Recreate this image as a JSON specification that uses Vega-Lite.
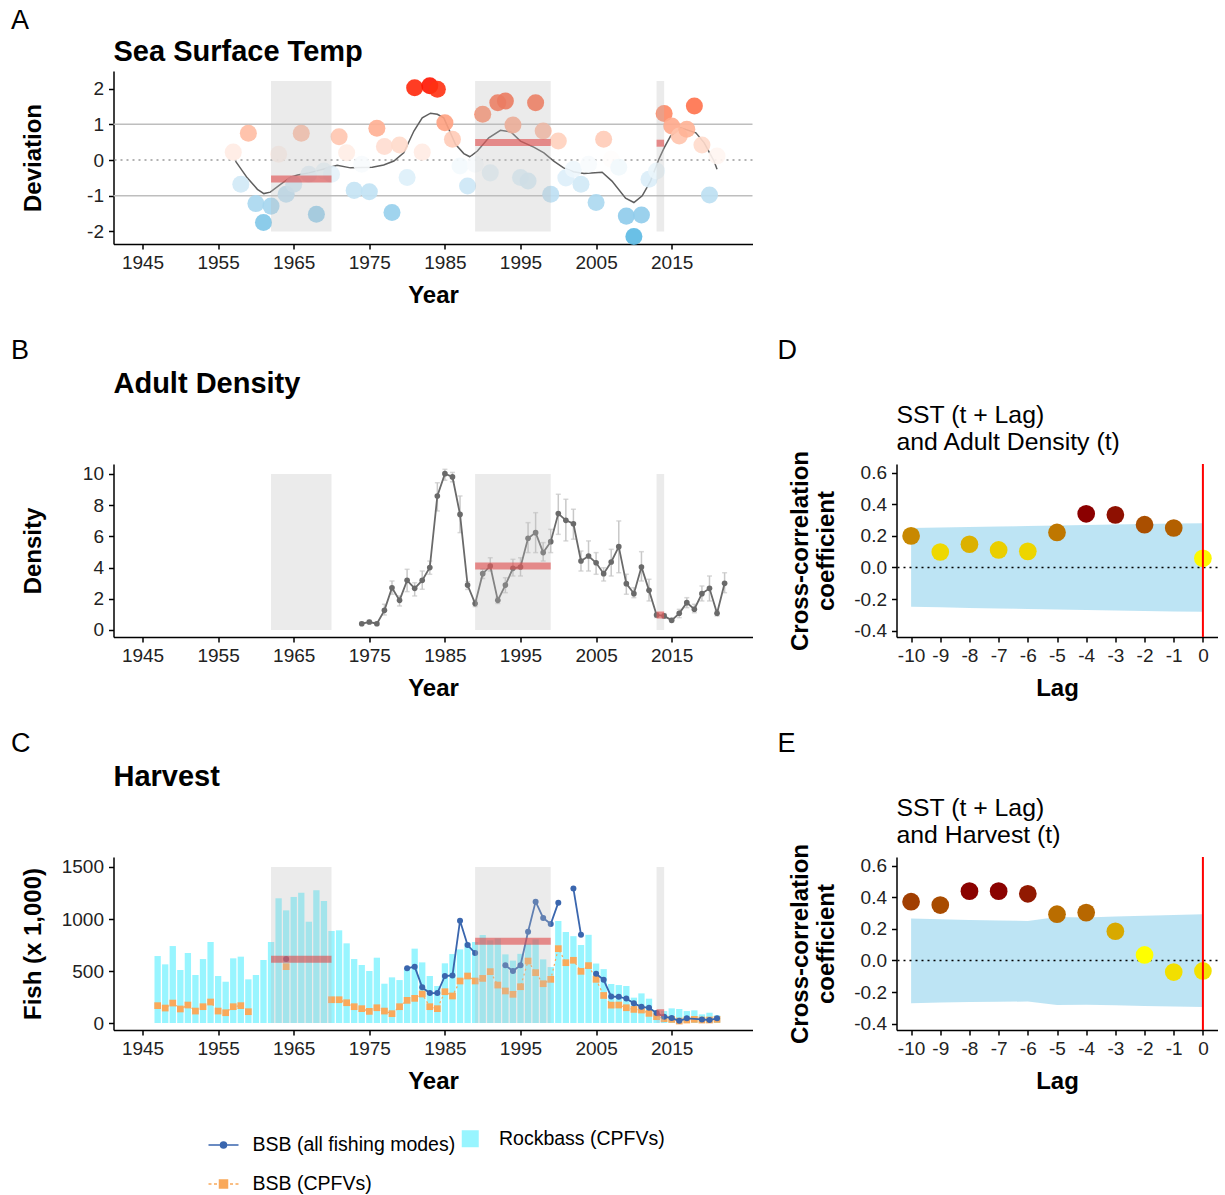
{
"$schema": "https://vega.github.io/schema/vega-lite/v6.json",
"background": "white",
"padding": {"left": 10.5, "top": 6, "right": 5, "bottom": 0},
"config": {
  "font": "Liberation Sans",
  "view": {"stroke": null},
  "axis": {"grid": false, "domainColor": "black", "domainWidth": 1.5, "tickColor": "black", "tickWidth": 1.5, "tickSize": 5, "labelFontSize": 19, "labelColor": "#222222", "labelPadding": 4, "titleFontSize": 24, "titleFontWeight": "bold", "titleColor": "black", "labelOverlap": false},
  "axisX": {"titlePadding": 11},
  "axisY": {"titlePadding": 15, "labelPadding": 5},
  "title": {"color": "black"}
},
"datasets": {
  "sst": [
    {"year":1957,"dev":0.22},{"year":1958,"dev":-0.68},{"year":1959,"dev":0.75},{"year":1960,"dev":-1.22},{"year":1961,"dev":-1.75},{"year":1962,"dev":-1.29},{"year":1963,"dev":0.16},{"year":1964,"dev":-0.96},{"year":1965,"dev":-0.68},{"year":1966,"dev":0.75},{"year":1967,"dev":-0.40},{"year":1968,"dev":-1.52},{"year":1969,"dev":-0.31},{"year":1970,"dev":-0.40},{"year":1971,"dev":0.65},{"year":1972,"dev":0.20},{"year":1973,"dev":-0.85},{"year":1974,"dev":-0.12},{"year":1975,"dev":-0.89},{"year":1976,"dev":0.89},{"year":1977,"dev":0.38},{"year":1978,"dev":-1.47},{"year":1979,"dev":0.42},{"year":1980,"dev":-0.49},{"year":1981,"dev":2.02},{"year":1982,"dev":0.22},{"year":1983,"dev":2.08},{"year":1984,"dev":1.98},{"year":1985,"dev":1.04},{"year":1986,"dev":0.58},{"year":1987,"dev":-0.17},{"year":1988,"dev":-0.73},{"year":1989,"dev":-0.12},{"year":1990,"dev":1.28},{"year":1991,"dev":-0.36},{"year":1992,"dev":1.60},{"year":1993,"dev":1.65},{"year":1994,"dev":0.98},{"year":1995,"dev":-0.49},{"year":1996,"dev":-0.59},{"year":1997,"dev":1.60},{"year":1998,"dev":0.81},{"year":1999,"dev":-0.96},{"year":2000,"dev":0.53},{"year":2001,"dev":-0.50},{"year":2002,"dev":-0.26},{"year":2003,"dev":-0.68},{"year":2004,"dev":-0.12},{"year":2005,"dev":-1.19},{"year":2006,"dev":0.58},{"year":2007,"dev":0.02},{"year":2008,"dev":-0.20},{"year":2009,"dev":-1.57},{"year":2010,"dev":-2.14},{"year":2011,"dev":-1.54},{"year":2012,"dev":-0.54},{"year":2013,"dev":-0.31},{"year":2014,"dev":1.30},{"year":2015,"dev":0.95},{"year":2016,"dev":0.67},{"year":2017,"dev":0.86},{"year":2018,"dev":1.51},{"year":2019,"dev":0.42},{"year":2020,"dev":-0.98},{"year":2021,"dev":0.11}
  ],
  "sst_smooth": [
    {"year":1957.3,"dev":-0.03},{"year":1958.85,"dev":-0.50},{"year":1960.2,"dev":-0.82},{"year":1961.05,"dev":-0.94},{"year":1961.9,"dev":-0.90},{"year":1963.25,"dev":-0.68},{"year":1964.6,"dev":-0.48},{"year":1965.5,"dev":-0.42},{"year":1967,"dev":-0.36},{"year":1969,"dev":-0.25},{"year":1970.75,"dev":-0.15},{"year":1972.5,"dev":-0.22},{"year":1974,"dev":-0.21},{"year":1975.4,"dev":-0.20},{"year":1976.9,"dev":-0.14},{"year":1978.25,"dev":-0.03},{"year":1979.55,"dev":0.20},{"year":1980.9,"dev":0.81},{"year":1982,"dev":1.18},{"year":1983.1,"dev":1.31},{"year":1984,"dev":1.28},{"year":1984.85,"dev":1.18},{"year":1986.4,"dev":0.44},{"year":1987.5,"dev":0.18},{"year":1988.3,"dev":0.09},{"year":1989.3,"dev":0.25},{"year":1990.8,"dev":0.62},{"year":1992.35,"dev":0.83},{"year":1993.7,"dev":0.79},{"year":1995,"dev":0.53},{"year":1996.75,"dev":0.36},{"year":1998.1,"dev":0.20},{"year":1999.4,"dev":-0.03},{"year":2000.7,"dev":-0.22},{"year":2002,"dev":-0.33},{"year":2003.4,"dev":-0.38},{"year":2005.8,"dev":-0.34},{"year":2007.1,"dev":-0.59},{"year":2008.9,"dev":-1.07},{"year":2010,"dev":-1.19},{"year":2011.1,"dev":-1.00},{"year":2012.2,"dev":-0.59},{"year":2013.3,"dev":0.02},{"year":2014,"dev":0.34},{"year":2014.85,"dev":0.67},{"year":2016.2,"dev":0.90},{"year":2018.2,"dev":0.76},{"year":2019.3,"dev":0.48},{"year":2020.6,"dev":-0.03},{"year":2021,"dev":-0.26}
  ],
  "density": [
    {"year":1974,"density":0.40,"lo":0.30,"hi":0.50},{"year":1975,"density":0.51,"lo":0.40,"hi":0.62},{"year":1976,"density":0.40,"lo":0.30,"hi":0.50},{"year":1977,"density":1.26,"lo":0.96,"hi":1.65},{"year":1978,"density":2.71,"lo":2.29,"hi":3.14},{"year":1979,"density":1.90,"lo":1.54,"hi":2.18},{"year":1980,"density":3.18,"lo":2.46,"hi":3.89},{"year":1981,"density":2.67,"lo":2.18,"hi":3.03},{"year":1982,"density":3.18,"lo":2.61,"hi":3.78},{"year":1983,"density":4.00,"lo":3.57,"hi":4.42},{"year":1984,"density":8.59,"lo":7.63,"hi":9.44},{"year":1985,"density":10.02,"lo":9.6,"hi":10.3},{"year":1986,"density":9.81,"lo":9.5,"hi":10.1},{"year":1987,"density":7.41,"lo":6.24,"hi":8.59},{"year":1988,"density":2.88,"lo":2.6,"hi":3.1},{"year":1989,"density":1.69,"lo":1.5,"hi":1.9},{"year":1990,"density":3.61,"lo":3.3,"hi":3.9},{"year":1991,"density":4.10,"lo":3.78,"hi":4.63},{"year":1992,"density":1.90,"lo":1.7,"hi":2.1},{"year":1993,"density":2.88,"lo":2.39,"hi":3.35},{"year":1994,"density":3.95,"lo":3.46,"hi":4.53},{"year":1995,"density":4.04,"lo":3.46,"hi":4.63},{"year":1996,"density":5.88,"lo":4.96,"hi":6.88},{"year":1997,"density":6.24,"lo":4.96,"hi":7.52},{"year":1998,"density":4.96,"lo":4.42,"hi":5.60},{"year":1999,"density":5.66,"lo":4.96,"hi":6.45},{"year":2000,"density":7.46,"lo":6.13,"hi":8.70},{"year":2001,"density":7.03,"lo":5.71,"hi":8.38},{"year":2002,"density":6.81,"lo":5.82,"hi":7.74},{"year":2003,"density":4.42,"lo":3.78,"hi":5.06},{"year":2004,"density":4.74,"lo":3.78,"hi":5.71},{"year":2005,"density":4.31,"lo":3.57,"hi":4.96},{"year":2006,"density":3.61,"lo":3.14,"hi":3.99},{"year":2007,"density":4.36,"lo":3.46,"hi":5.17},{"year":2008,"density":5.34,"lo":3.67,"hi":6.99},{"year":2009,"density":2.97,"lo":2.29,"hi":3.57},{"year":2010,"density":2.33,"lo":2.07,"hi":2.71},{"year":2011,"density":4.04,"lo":3.14,"hi":5.02},{"year":2012,"density":2.54,"lo":1.86,"hi":3.25},{"year":2013,"density":0.96,"lo":0.8,"hi":1.1},{"year":2014,"density":0.90,"lo":0.75,"hi":1.05},{"year":2015,"density":0.62,"lo":0.5,"hi":0.75},{"year":2016,"density":1.07,"lo":0.79,"hi":1.32},{"year":2017,"density":1.75,"lo":1.43,"hi":2.07},{"year":2018,"density":1.33,"lo":1.11,"hi":1.65},{"year":2019,"density":2.33,"lo":1.86,"hi":2.82},{"year":2020,"density":2.67,"lo":1.86,"hi":3.46},{"year":2021,"density":1.07,"lo":0.9,"hi":1.25},{"year":2022,"density":2.99,"lo":2.39,"hi":3.67}
  ],
  "rockbass": [
    {"year":1947,"fish":644},{"year":1948,"fish":564},{"year":1949,"fish":740},{"year":1950,"fish":510},{"year":1951,"fish":673},{"year":1952,"fish":462},{"year":1953,"fish":615},{"year":1954,"fish":779},{"year":1955,"fish":452},{"year":1956,"fish":397},{"year":1957,"fish":622},{"year":1958,"fish":638},{"year":1959,"fish":420},{"year":1960,"fish":462},{"year":1961,"fish":606},{"year":1962,"fish":779},{"year":1963,"fish":1199},{"year":1964,"fish":1083},{"year":1965,"fish":1212},{"year":1966,"fish":1253},{"year":1967,"fish":974},{"year":1968,"fish":1276},{"year":1969,"fish":1173},{"year":1970,"fish":885},{"year":1971,"fish":891},{"year":1972,"fish":766},{"year":1973,"fish":615},{"year":1974,"fish":558},{"year":1975,"fish":500},{"year":1976,"fish":628},{"year":1977,"fish":378},{"year":1978,"fish":439},{"year":1979,"fish":413},{"year":1980,"fish":520},{"year":1981,"fish":715},{"year":1982,"fish":583},{"year":1983,"fish":452},{"year":1984,"fish":356},{"year":1985,"fish":574},{"year":1986,"fish":663},{"year":1987,"fish":708},{"year":1988,"fish":772},{"year":1989,"fish":779},{"year":1990,"fish":846},{"year":1991,"fish":795},{"year":1992,"fish":814},{"year":1993,"fish":660},{"year":1994,"fish":600},{"year":1995,"fish":665},{"year":1996,"fish":763},{"year":1997,"fish":805},{"year":1998,"fish":612},{"year":1999,"fish":538},{"year":2000,"fish":981},{"year":2001,"fish":875},{"year":2002,"fish":835},{"year":2003,"fish":750},{"year":2004,"fish":848},{"year":2005,"fish":572},{"year":2006,"fish":518},{"year":2007,"fish":375},{"year":2008,"fish":365},{"year":2009,"fish":356},{"year":2010,"fish":244},{"year":2011,"fish":285},{"year":2012,"fish":234},{"year":2013,"fish":122},{"year":2014,"fish":115},{"year":2015,"fish":141},{"year":2016,"fish":135},{"year":2017,"fish":115},{"year":2018,"fish":122},{"year":2019,"fish":83},{"year":2020,"fish":99},{"year":2021,"fish":74}
  ],
  "bsb": [
    {"series":"BSB (all fishing modes)","seg":1,"year":1964,"fish":615},
    {"series":"BSB (all fishing modes)","seg":2,"year":1980,"fish":526},{"series":"BSB (all fishing modes)","seg":2,"year":1981,"fish":542},{"series":"BSB (all fishing modes)","seg":2,"year":1982,"fish":343},{"series":"BSB (all fishing modes)","seg":2,"year":1983,"fish":288},{"series":"BSB (all fishing modes)","seg":2,"year":1984,"fish":288},{"series":"BSB (all fishing modes)","seg":2,"year":1985,"fish":452},{"series":"BSB (all fishing modes)","seg":2,"year":1986,"fish":458},{"series":"BSB (all fishing modes)","seg":2,"year":1987,"fish":984},{"series":"BSB (all fishing modes)","seg":2,"year":1988,"fish":750},{"series":"BSB (all fishing modes)","seg":2,"year":1989,"fish":673},
    {"series":"BSB (all fishing modes)","seg":3,"year":1993,"fish":555},{"series":"BSB (all fishing modes)","seg":3,"year":1994,"fish":500},{"series":"BSB (all fishing modes)","seg":3,"year":1995,"fish":555},{"series":"BSB (all fishing modes)","seg":3,"year":1996,"fish":878},{"series":"BSB (all fishing modes)","seg":3,"year":1997,"fish":1167},{"series":"BSB (all fishing modes)","seg":3,"year":1998,"fish":1010},{"series":"BSB (all fishing modes)","seg":3,"year":1999,"fish":952},{"series":"BSB (all fishing modes)","seg":3,"year":2000,"fish":1157},
    {"series":"BSB (all fishing modes)","seg":4,"year":2002,"fish":1292},{"series":"BSB (all fishing modes)","seg":4,"year":2003,"fish":849},
    {"series":"BSB (all fishing modes)","seg":5,"year":2005,"fish":474},{"series":"BSB (all fishing modes)","seg":5,"year":2006,"fish":415},{"series":"BSB (all fishing modes)","seg":5,"year":2007,"fish":255},{"series":"BSB (all fishing modes)","seg":5,"year":2008,"fish":252},{"series":"BSB (all fishing modes)","seg":5,"year":2009,"fish":236},{"series":"BSB (all fishing modes)","seg":5,"year":2010,"fish":189},{"series":"BSB (all fishing modes)","seg":5,"year":2011,"fish":156},{"series":"BSB (all fishing modes)","seg":5,"year":2012,"fish":146},{"series":"BSB (all fishing modes)","seg":5,"year":2013,"fish":96},{"series":"BSB (all fishing modes)","seg":5,"year":2014,"fish":61},{"series":"BSB (all fishing modes)","seg":5,"year":2015,"fish":48},{"series":"BSB (all fishing modes)","seg":5,"year":2016,"fish":22},{"series":"BSB (all fishing modes)","seg":5,"year":2017,"fish":45},{"series":"BSB (all fishing modes)","seg":5,"year":2019,"fish":35},{"series":"BSB (all fishing modes)","seg":5,"year":2020,"fish":29},{"series":"BSB (all fishing modes)","seg":5,"year":2021,"fish":45},
    {"series":"BSB (CPFVs)","seg":1,"year":1947,"fish":167},{"series":"BSB (CPFVs)","seg":1,"year":1948,"fish":144},{"series":"BSB (CPFVs)","seg":1,"year":1949,"fish":192},{"series":"BSB (CPFVs)","seg":1,"year":1950,"fish":135},{"series":"BSB (CPFVs)","seg":1,"year":1951,"fish":173},{"series":"BSB (CPFVs)","seg":1,"year":1952,"fish":115},{"series":"BSB (CPFVs)","seg":1,"year":1953,"fish":157},{"series":"BSB (CPFVs)","seg":1,"year":1954,"fish":202},{"series":"BSB (CPFVs)","seg":1,"year":1955,"fish":115},{"series":"BSB (CPFVs)","seg":1,"year":1956,"fish":99},{"series":"BSB (CPFVs)","seg":1,"year":1957,"fish":157},{"series":"BSB (CPFVs)","seg":1,"year":1958,"fish":167},{"series":"BSB (CPFVs)","seg":1,"year":1959,"fish":109},
    {"series":"BSB (CPFVs)","seg":2,"year":1964,"fish":542},
    {"series":"BSB (CPFVs)","seg":3,"year":1970,"fish":224},{"series":"BSB (CPFVs)","seg":3,"year":1971,"fish":224},{"series":"BSB (CPFVs)","seg":3,"year":1972,"fish":195},{"series":"BSB (CPFVs)","seg":3,"year":1973,"fish":157},{"series":"BSB (CPFVs)","seg":3,"year":1974,"fish":138},{"series":"BSB (CPFVs)","seg":3,"year":1975,"fish":112},{"series":"BSB (CPFVs)","seg":3,"year":1976,"fish":147},{"series":"BSB (CPFVs)","seg":3,"year":1977,"fish":115},{"series":"BSB (CPFVs)","seg":3,"year":1978,"fish":90},{"series":"BSB (CPFVs)","seg":3,"year":1979,"fish":157},{"series":"BSB (CPFVs)","seg":3,"year":1980,"fish":218},{"series":"BSB (CPFVs)","seg":3,"year":1981,"fish":237},{"series":"BSB (CPFVs)","seg":3,"year":1982,"fish":279},{"series":"BSB (CPFVs)","seg":3,"year":1983,"fish":157},{"series":"BSB (CPFVs)","seg":3,"year":1984,"fish":138},{"series":"BSB (CPFVs)","seg":3,"year":1985,"fish":301},{"series":"BSB (CPFVs)","seg":3,"year":1986,"fish":260},{"series":"BSB (CPFVs)","seg":3,"year":1987,"fish":404},{"series":"BSB (CPFVs)","seg":3,"year":1988,"fish":452},{"series":"BSB (CPFVs)","seg":3,"year":1989,"fish":404},{"series":"BSB (CPFVs)","seg":3,"year":1990,"fish":429},{"series":"BSB (CPFVs)","seg":3,"year":1991,"fish":494},{"series":"BSB (CPFVs)","seg":3,"year":1992,"fish":365},{"series":"BSB (CPFVs)","seg":3,"year":1993,"fish":308},{"series":"BSB (CPFVs)","seg":3,"year":1994,"fish":276},{"series":"BSB (CPFVs)","seg":3,"year":1995,"fish":349},{"series":"BSB (CPFVs)","seg":3,"year":1996,"fish":596},{"series":"BSB (CPFVs)","seg":3,"year":1997,"fish":484},{"series":"BSB (CPFVs)","seg":3,"year":1998,"fish":378},{"series":"BSB (CPFVs)","seg":3,"year":1999,"fish":420},{"series":"BSB (CPFVs)","seg":3,"year":2000,"fish":715},{"series":"BSB (CPFVs)","seg":3,"year":2001,"fish":580},{"series":"BSB (CPFVs)","seg":3,"year":2002,"fish":603},{"series":"BSB (CPFVs)","seg":3,"year":2003,"fish":497},{"series":"BSB (CPFVs)","seg":3,"year":2004,"fish":552},{"series":"BSB (CPFVs)","seg":3,"year":2005,"fish":420},{"series":"BSB (CPFVs)","seg":3,"year":2006,"fish":265},{"series":"BSB (CPFVs)","seg":3,"year":2007,"fish":172},{"series":"BSB (CPFVs)","seg":3,"year":2008,"fish":173},{"series":"BSB (CPFVs)","seg":3,"year":2009,"fish":147},{"series":"BSB (CPFVs)","seg":3,"year":2010,"fish":131},{"series":"BSB (CPFVs)","seg":3,"year":2011,"fish":125},{"series":"BSB (CPFVs)","seg":3,"year":2012,"fish":93},{"series":"BSB (CPFVs)","seg":3,"year":2013,"fish":61},{"series":"BSB (CPFVs)","seg":3,"year":2014,"fish":42},{"series":"BSB (CPFVs)","seg":3,"year":2015,"fish":35},{"series":"BSB (CPFVs)","seg":3,"year":2016,"fish":19},{"series":"BSB (CPFVs)","seg":3,"year":2017,"fish":29},{"series":"BSB (CPFVs)","seg":3,"year":2018,"fish":35},{"series":"BSB (CPFVs)","seg":3,"year":2019,"fish":29},{"series":"BSB (CPFVs)","seg":3,"year":2020,"fish":29},{"series":"BSB (CPFVs)","seg":3,"year":2021,"fish":35}
  ],
  "periods": [{"start":1962,"end":1970},{"start":1989,"end":1999},{"start":2013,"end":2014}],
  "means": [
    {"panel":"A","start":1962,"end":1970,"mean":-0.53},{"panel":"A","start":1989,"end":1999,"mean":0.49},{"panel":"A","start":2013,"end":2014,"mean":0.47},
    {"panel":"B","start":1989,"end":1999,"mean":4.10},{"panel":"B","start":2013,"end":2014,"mean":0.96},
    {"panel":"C","start":1962,"end":1970,"mean":612},{"panel":"C","start":1989,"end":1999,"mean":785},{"panel":"C","start":2013,"end":2014,"mean":99}
  ],
  "ccf_d": [
    {"lag":-10,"r":0.200,"lo":-0.248,"hi":0.250},{"lag":-9,"r":0.098,"lo":-0.252,"hi":0.253},{"lag":-8,"r":0.147,"lo":-0.256,"hi":0.256},{"lag":-7,"r":0.111,"lo":-0.259,"hi":0.259},{"lag":-6,"r":0.102,"lo":-0.262,"hi":0.262},{"lag":-5,"r":0.222,"lo":-0.266,"hi":0.266},{"lag":-4,"r":0.340,"lo":-0.269,"hi":0.269},{"lag":-3,"r":0.333,"lo":-0.272,"hi":0.272},{"lag":-2,"r":0.271,"lo":-0.275,"hi":0.275},{"lag":-1,"r":0.250,"lo":-0.278,"hi":0.278},{"lag":0,"r":0.058,"lo":-0.280,"hi":0.280}
  ],
  "ccf_e": [
    {"lag":-10,"r":0.372,"lo":-0.271,"hi":0.265},{"lag":-9,"r":0.351,"lo":-0.266,"hi":0.261},{"lag":-8,"r":0.439,"lo":-0.262,"hi":0.256},{"lag":-7,"r":0.439,"lo":-0.261,"hi":0.253},{"lag":-6,"r":0.422,"lo":-0.260,"hi":0.250},{"lag":-5,"r":0.293,"lo":-0.281,"hi":0.275},{"lag":-4,"r":0.303,"lo":-0.280,"hi":0.272},{"lag":-3,"r":0.185,"lo":-0.284,"hi":0.278},{"lag":-2,"r":0.035,"lo":-0.288,"hi":0.283},{"lag":-1,"r":-0.073,"lo":-0.291,"hi":0.288},{"lag":0,"r":-0.066,"lo":-0.294,"hi":0.293}
  ]
},
"columns": 2,
"spacing": {"row": 220, "column": 144},
"bounds": "flush",
"resolve": {"scale": {"x": "independent", "y": "independent", "color": "independent", "fill": "independent", "stroke": "independent", "shape": "independent"}},
"concat": [
  {
    "width": 639, "height": 173,
    "title": {"text": "Sea Surface Temp", "anchor": "start", "frame": "group", "baseline": "alphabetic", "offset": -83, "fontSize": 29, "fontWeight": "bold", "color": "black"},
    "layer": [
      {"data": {"values": [{"v": -1}, {"v": 1}]},
       "mark": {"type": "rule", "color": "#bebebe", "strokeWidth": 1.5},
       "encoding": {"y": {"field": "v", "type": "quantitative", "scale": {"domain": [-2.35, 2.49], "nice": false, "zero": false},
         "axis": {"title": "Deviation", "values": [-2, -1, 0, 1, 2], "tickCount": 30, "format": "d", "labelOverlap": false, "labelExpr": "replace(datum.label, '−', '-')", "minExtent": 53, "maxExtent": 53}}}},
      {"data": {"values": [{"v": 0}]},
       "mark": {"type": "rule", "color": "#9a9a9a", "strokeWidth": 1.5, "strokeDash": [2, 4]},
       "encoding": {"y": {"field": "v", "type": "quantitative"}}},
      {"data": {"name": "sst_smooth"},
       "mark": {"type": "line", "color": "#5f5f5f", "strokeWidth": 1.5},
       "encoding": {
         "x": {"field": "year", "type": "quantitative", "scale": {"domain": [1941.16, 2025.69], "nice": false, "zero": false},
           "axis": {"title": "Year", "values": [1945, 1955, 1965, 1975, 1985, 1995, 2005, 2015], "tickCount": 30, "format": "d", "labelOverlap": false}},
         "y": {"field": "dev", "type": "quantitative"}}},
      {"data": {"name": "sst"},
       "mark": {"type": "point", "filled": true, "size": 290, "opacity": 0.9},
       "encoding": {
         "x": {"field": "year", "type": "quantitative"},
         "y": {"field": "dev", "type": "quantitative"},
         "color": {"field": "dev", "type": "quantitative", "scale": {"domain": [-2.14, 0, 2.08], "range": ["#5ab9e3", "#ffffff", "#ff1500"], "interpolate": "lab"}, "legend": null}}},
      {"data": {"name": "periods"},
       "mark": {"type": "rect", "color": "#bebebe", "opacity": 0.3},
       "encoding": {
         "x": {"field": "start", "type": "quantitative"}, "x2": {"field": "end"},
         "y": {"datum": -2.0}, "y2": {"datum": 2.21}}},
      {"data": {"name": "means"}, "transform": [{"filter": "datum.panel === 'A'"}],
       "mark": {"type": "rule", "color": "#e04848", "opacity": 0.6, "strokeWidth": 7},
       "encoding": {
         "x": {"field": "start", "type": "quantitative"}, "x2": {"field": "end"},
         "y": {"field": "mean", "type": "quantitative"}}},
      {"data": {"values": [{"label": "A"}]},
       "mark": {"type": "text", "align": "left", "baseline": "middle", "fontSize": 27, "color": "black"},
       "encoding": {"x": {"datum": 1927.6}, "y": {"datum": 3.89}, "text": {"field": "label"}}}
    ]
  },
  {
    "width": 321, "height": 173,
    "data": {"values": [{}]},
    "mark": {"type": "point", "opacity": 0},
    "encoding": {}
  },
  {
    "width": 639, "height": 173,
    "title": {"text": "Adult Density", "anchor": "start", "frame": "group", "baseline": "alphabetic", "offset": -85, "fontSize": 29, "fontWeight": "bold", "color": "black"},
    "layer": [
      {"data": {"name": "density"},
       "mark": {"type": "errorbar", "color": "#c8c8c8", "thickness": 1.5, "ticks": {"size": 5, "color": "#c8c8c8"}},
       "encoding": {
         "x": {"field": "year", "type": "quantitative", "scale": {"domain": [1941.16, 2025.69], "nice": false, "zero": false},
           "axis": {"title": "Year", "values": [1945, 1955, 1965, 1975, 1985, 1995, 2005, 2015], "tickCount": 30, "format": "d", "labelOverlap": false}},
         "y": {"field": "lo", "type": "quantitative", "scale": {"domain": [-0.45, 10.64], "nice": false, "zero": false},
           "axis": {"title": "Density", "values": [0, 2, 4, 6, 8, 10], "tickCount": 30, "format": "d", "labelOverlap": false, "minExtent": 53, "maxExtent": 53}},
         "y2": {"field": "hi"}}},
      {"data": {"name": "density"},
       "mark": {"type": "line", "color": "#6a6a6a", "strokeWidth": 1.8},
       "encoding": {
         "x": {"field": "year", "type": "quantitative"},
         "y": {"field": "density", "type": "quantitative"}}},
      {"data": {"name": "density"},
       "mark": {"type": "point", "filled": true, "size": 32, "color": "#6a6a6a", "opacity": 1},
       "encoding": {
         "x": {"field": "year", "type": "quantitative"},
         "y": {"field": "density", "type": "quantitative"}}},
      {"data": {"name": "periods"},
       "mark": {"type": "rect", "color": "#bebebe", "opacity": 0.3},
       "encoding": {
         "x": {"field": "start", "type": "quantitative"}, "x2": {"field": "end"},
         "y": {"datum": 0}, "y2": {"datum": 10}}},
      {"data": {"name": "means"}, "transform": [{"filter": "datum.panel === 'B'"}],
       "mark": {"type": "rule", "color": "#e04848", "opacity": 0.6, "strokeWidth": 7},
       "encoding": {
         "x": {"field": "start", "type": "quantitative"}, "x2": {"field": "end"},
         "y": {"field": "mean", "type": "quantitative"}}},
      {"data": {"values": [{"label": "B"}]},
       "mark": {"type": "text", "align": "left", "baseline": "middle", "fontSize": 27, "color": "black"},
       "encoding": {"x": {"datum": 1927.6}, "y": {"datum": 17.88}, "text": {"field": "label"}}}
    ]
  },
  {
    "width": 321, "height": 173,
    "title": {"text": ["SST (t + Lag)", "and Adult Density (t)"], "anchor": "start", "frame": "group", "baseline": "alphabetic", "offset": -137.7, "fontSize": 24.8, "fontWeight": "normal", "lineHeight": 27, "color": "black"},
    "layer": [
      {"data": {"name": "ccf_d"},
       "mark": {"type": "area", "color": "#87ceeb", "opacity": 0.55},
       "encoding": {
         "x": {"field": "lag", "type": "quantitative", "scale": {"domain": [-10.5, 0.5], "nice": false, "zero": false},
           "axis": {"title": "Lag", "values": [-10, -9, -8, -7, -6, -5, -4, -3, -2, -1, 0], "tickCount": 30, "format": "d", "labelOverlap": false, "labelExpr": "replace(datum.label, '−', '-')"}},
         "y": {"field": "lo", "type": "quantitative", "scale": {"domain": [-0.44, 0.655], "nice": false, "zero": false},
           "axis": {"title": ["Cross-correlation", "coefficient"], "values": [-0.4, -0.2, 0, 0.2, 0.4, 0.6], "tickCount": 30, "format": ".1f", "labelOverlap": false, "labelExpr": "replace(datum.label, '−', '-')", "minExtent": 46, "maxExtent": 46, "titlePadding": 12, "titleLineHeight": 26}},
         "y2": {"field": "hi"}}},
      {"data": {"values": [{"v": 0}]},
       "mark": {"type": "rule", "color": "black", "strokeWidth": 1.5, "strokeDash": [2, 4]},
       "encoding": {"y": {"field": "v", "type": "quantitative"}}},
      {"data": {"name": "ccf_d"},
       "mark": {"type": "point", "filled": true, "size": 314, "opacity": 1},
       "encoding": {
         "x": {"field": "lag", "type": "quantitative"},
         "y": {"field": "r", "type": "quantitative"},
         "color": {"field": "r", "type": "quantitative", "scale": {"domain": [0.05, 0.34], "range": ["#ffff00", "#8b0000"], "interpolate": "lab"}, "legend": null}}},
      {"data": {"values": [{"v": 0}]},
       "mark": {"type": "rule", "color": "red", "strokeWidth": 2},
       "encoding": {"x": {"field": "v", "type": "quantitative"}}},
      {"data": {"values": [{"label": "D"}]},
       "mark": {"type": "text", "align": "left", "baseline": "middle", "fontSize": 27, "color": "black"},
       "encoding": {"x": {"datum": -14.58}, "y": {"datum": 1.37}, "text": {"field": "label"}}}
    ]
  },
  {
    "width": 639, "height": 173,
    "title": {"text": "Harvest", "anchor": "start", "frame": "group", "baseline": "alphabetic", "offset": -85, "fontSize": 29, "fontWeight": "bold", "color": "black"},
    "layer": [
      {"data": {"name": "rockbass"},
       "mark": {"type": "bar", "size": 6.3},
       "encoding": {
         "x": {"field": "year", "type": "quantitative", "scale": {"domain": [1941.16, 2025.69], "nice": false, "zero": false, "padding": 0},
           "axis": {"title": "Year", "values": [1945, 1955, 1965, 1975, 1985, 1995, 2005, 2015], "tickCount": 30, "format": "d", "labelOverlap": false}},
         "y": {"field": "fish", "type": "quantitative", "scale": {"domain": [-67, 1596], "nice": false, "padding": 0},
           "axis": {"title": "Fish (x 1,000)", "values": [0, 500, 1000, 1500], "tickCount": 30, "format": "d", "labelOverlap": false, "minExtent": 53, "maxExtent": 53}},
         "y2": {"datum": 0},
         "color": {"datum": "Rockbass (CPFVs)", "type": "nominal", "scale": {"domain": ["Rockbass (CPFVs)"], "range": ["#98F5FF"]},
           "legend": {"orient": "none", "legendX": 347, "legendY": 272, "title": null, "symbolType": "square", "symbolSize": 289, "symbolStrokeWidth": 0, "symbolOpacity": 1, "labelFontSize": 19.5, "labelColor": "black", "labelOffset": 19, "labelLimit": 400}}}},
      {"data": {"name": "bsb"}, "transform": [{"filter": "datum.series === 'BSB (CPFVs)'"}],
       "mark": {"type": "line", "color": "#f9a95b", "strokeWidth": 1.2, "strokeDash": [2, 3]},
       "encoding": {
         "x": {"field": "year", "type": "quantitative"},
         "y": {"field": "fish", "type": "quantitative"},
         "detail": {"field": "seg", "type": "nominal"}}},
      {"data": {"name": "bsb"}, "transform": [{"filter": "datum.series === 'BSB (CPFVs)'"}],
       "mark": {"type": "square", "size": 45, "color": "#f9a95b", "opacity": 1},
       "encoding": {
         "x": {"field": "year", "type": "quantitative"},
         "y": {"field": "fish", "type": "quantitative"}}},
      {"data": {"name": "bsb"}, "transform": [{"filter": "datum.series === 'BSB (all fishing modes)'"}],
       "mark": {"type": "line", "color": "#3a66ae", "strokeWidth": 1.8},
       "encoding": {
         "x": {"field": "year", "type": "quantitative"},
         "y": {"field": "fish", "type": "quantitative"},
         "detail": {"field": "seg", "type": "nominal"}}},
      {"data": {"name": "bsb"}, "transform": [{"filter": "datum.series === 'BSB (all fishing modes)'"}],
       "mark": {"type": "circle", "size": 36, "color": "#3a66ae", "opacity": 1},
       "encoding": {
         "x": {"field": "year", "type": "quantitative"},
         "y": {"field": "fish", "type": "quantitative"}}},
      {"data": {"name": "periods"},
       "mark": {"type": "rect", "color": "#bebebe", "opacity": 0.3},
       "encoding": {
         "x": {"field": "start", "type": "quantitative"}, "x2": {"field": "end"},
         "y": {"datum": 0}, "y2": {"datum": 1500}}},
      {"data": {"name": "means"}, "transform": [{"filter": "datum.panel === 'C'"}],
       "mark": {"type": "rule", "color": "#e04848", "opacity": 0.6, "strokeWidth": 7},
       "encoding": {
         "x": {"field": "start", "type": "quantitative"}, "x2": {"field": "end"},
         "y": {"field": "mean", "type": "quantitative"}}},
      {"data": {"name": "bsb"}, "transform": [{"filter": "false"}],
       "mark": {"type": "point", "filled": true, "opacity": 1},
       "encoding": {
         "x": {"field": "year", "type": "quantitative"},
         "y": {"field": "fish", "type": "quantitative"},
         "fill": {"field": "series", "type": "nominal", "scale": {"domain": ["BSB (all fishing modes)", "BSB (CPFVs)"], "range": ["#3a66ae", "#f9a95b"]},
           "legend": {"orient": "none", "legendX": 99, "legendY": 277, "title": null, "symbolSize": 400, "symbolStrokeWidth": 1.5, "symbolOpacity": 1, "labelFontSize": 19.5, "labelColor": "black", "labelOffset": 18, "labelLimit": 400, "rowPadding": 18, "direction": "vertical"}},
         "stroke": {"field": "series", "type": "nominal", "scale": {"domain": ["BSB (all fishing modes)", "BSB (CPFVs)"], "range": ["#3a66ae", "#f9a95b"]},
           "legend": {"orient": "none", "legendX": 99, "legendY": 277, "title": null, "symbolSize": 400, "symbolStrokeWidth": 1.5, "symbolOpacity": 1, "labelFontSize": 19.5, "labelColor": "black", "labelOffset": 18, "labelLimit": 400, "rowPadding": 18, "direction": "vertical"}},
         "shape": {"field": "series", "type": "nominal", "scale": {"domain": ["BSB (all fishing modes)", "BSB (CPFVs)"], "range": ["M-1.5,0L1.5,0M0.3,0A0.3,0.3,0,1,1,-0.3,0A0.3,0.3,0,1,1,0.3,0Z", "M-1.5,0L-1.2,0M-0.95,0L-0.65,0M0.65,0L0.95,0M1.2,0L1.5,0M-0.4,-0.4L0.4,-0.4L0.4,0.4L-0.4,0.4Z"]},
           "legend": {"orient": "none", "legendX": 99, "legendY": 277, "title": null, "symbolSize": 400, "symbolStrokeWidth": 1.5, "symbolOpacity": 1, "labelFontSize": 19.5, "labelColor": "black", "labelOffset": 18, "labelLimit": 400, "rowPadding": 18, "direction": "vertical"}}}},
      {"data": {"values": [{"label": "C"}]},
       "mark": {"type": "text", "align": "left", "baseline": "middle", "fontSize": 27, "color": "black"},
       "encoding": {"x": {"datum": 1927.6}, "y": {"datum": 2682}, "text": {"field": "label"}}}
    ]
  },
  {
    "width": 321, "height": 173,
    "title": {"text": ["SST (t + Lag)", "and Harvest (t)"], "anchor": "start", "frame": "group", "baseline": "alphabetic", "offset": -137.7, "fontSize": 24.8, "fontWeight": "normal", "lineHeight": 27, "color": "black"},
    "layer": [
      {"data": {"name": "ccf_e"},
       "mark": {"type": "area", "color": "#87ceeb", "opacity": 0.55},
       "encoding": {
         "x": {"field": "lag", "type": "quantitative", "scale": {"domain": [-10.5, 0.5], "nice": false, "zero": false},
           "axis": {"title": "Lag", "values": [-10, -9, -8, -7, -6, -5, -4, -3, -2, -1, 0], "tickCount": 30, "format": "d", "labelOverlap": false, "labelExpr": "replace(datum.label, '−', '-')"}},
         "y": {"field": "lo", "type": "quantitative", "scale": {"domain": [-0.44, 0.655], "nice": false, "zero": false},
           "axis": {"title": ["Cross-correlation", "coefficient"], "values": [-0.4, -0.2, 0, 0.2, 0.4, 0.6], "tickCount": 30, "format": ".1f", "labelOverlap": false, "labelExpr": "replace(datum.label, '−', '-')", "minExtent": 46, "maxExtent": 46, "titlePadding": 12, "titleLineHeight": 26}},
         "y2": {"field": "hi"}}},
      {"data": {"values": [{"v": 0}]},
       "mark": {"type": "rule", "color": "black", "strokeWidth": 1.5, "strokeDash": [2, 4]},
       "encoding": {"y": {"field": "v", "type": "quantitative"}}},
      {"data": {"name": "ccf_e"},
       "mark": {"type": "point", "filled": true, "size": 314, "opacity": 1},
       "encoding": {
         "x": {"field": "lag", "type": "quantitative"},
         "y": {"field": "r", "type": "quantitative"},
         "color": {"field": "r", "type": "quantitative", "scale": {"domain": [-0.075, 0.035, 0.44], "range": ["#f2de00", "#ffff00", "#8b0000"], "interpolate": "lab"}, "legend": null}}},
      {"data": {"values": [{"v": 0}]},
       "mark": {"type": "rule", "color": "red", "strokeWidth": 2},
       "encoding": {"x": {"field": "v", "type": "quantitative"}}},
      {"data": {"values": [{"label": "E"}]},
       "mark": {"type": "text", "align": "left", "baseline": "middle", "fontSize": 27, "color": "black"},
       "encoding": {"x": {"datum": -14.58}, "y": {"datum": 1.37}, "text": {"field": "label"}}}
    ]
  }
]
}
